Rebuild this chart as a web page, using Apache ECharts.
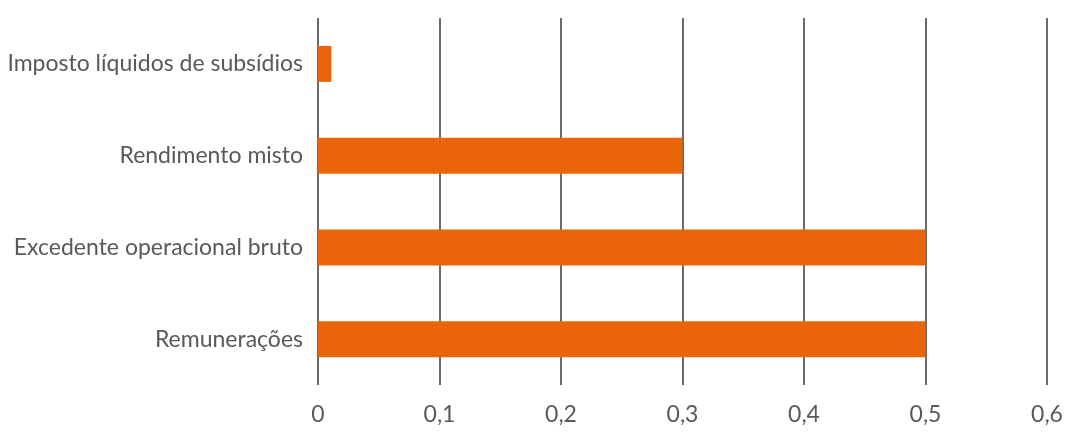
<!DOCTYPE html>
<html><head><meta charset="utf-8">
<script src="https://cdn.jsdelivr.net/npm/echarts@6/dist/echarts.min.js"></script>
<style>html,body{margin:0;padding:0;background:#fff}#c{width:1076px;height:436px}</style>
</head><body><div id="c"></div>
<script>
const categories = ["Remunerações", "Excedente operacional bruto", "Rendimento misto", "Imposto líquidos de subsídios"];
const values = [0.5, 0.5, 0.3, 0.011];
const xTicks = [0, 0.1, 0.2, 0.3, 0.4, 0.5, 0.6];

const chart = echarts.init(document.getElementById('c'));
chart.setOption({
  animation: false,
  grid: {left: 318, right: 29, top: 18, bottom: 51, containLabel: false},
  xAxis: {
    type: 'value', min: xTicks[0], max: xTicks[xTicks.length-1], interval: 0.1,
    axisLine: {show: false}, axisTick: {show: false},
    splitLine: {show: true, lineStyle: {color: '#6b6b6b', width: 2}},
    axisLabel: {color: '#595959', fontFamily: 'Lato', fontSize: 23, margin: 18,
      formatter: v => String(Math.round(v*10)/10).replace('.', ',')}
  },
  yAxis: {
    type: 'category', data: categories,
    axisLine: {show: false}, axisTick: {show: false},
    axisLabel: {color: '#595959', fontFamily: 'Lato', fontSize: 23, margin: 15}
  },
  series: [{
    type: 'bar', data: values, barWidth: 36,
    itemStyle: {color: '#EA6509'}
  }]
});
</script></body></html>
